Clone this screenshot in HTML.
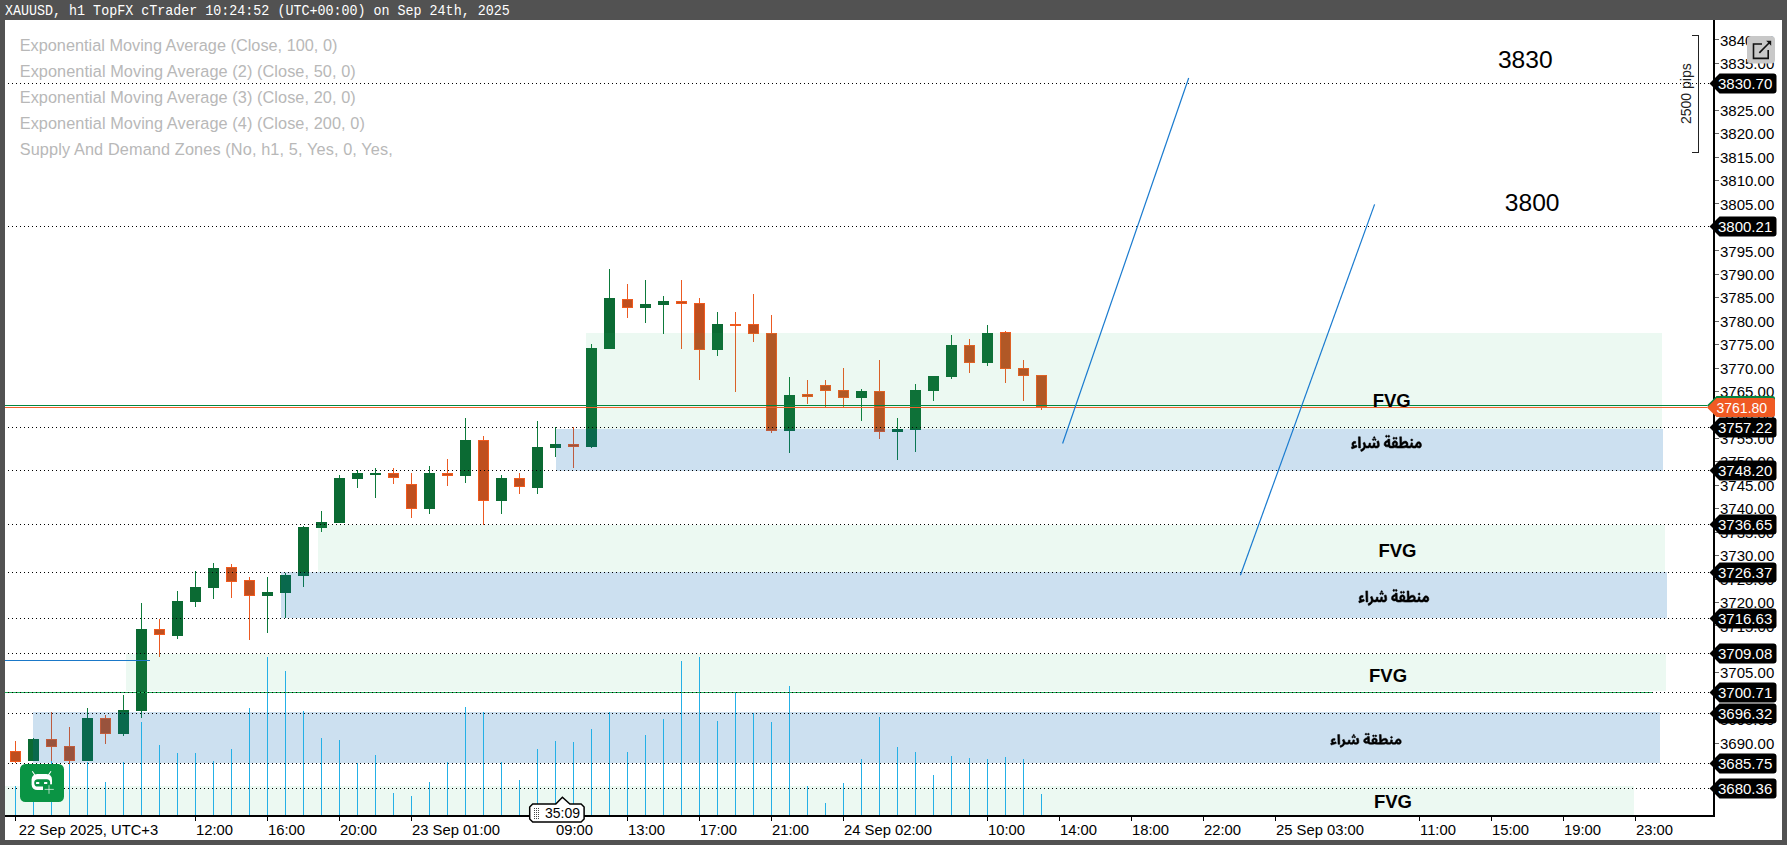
<!DOCTYPE html>
<html><head><meta charset="utf-8">
<style>
html,body{margin:0;padding:0;}
body{width:1787px;height:845px;background:#525252;overflow:hidden;position:relative;font-family:"Liberation Sans",sans-serif;}
#title{position:absolute;left:5px;top:2px;font-family:"Liberation Mono",monospace;font-size:15px;color:#fff;line-height:20px;white-space:pre;transform:scaleX(0.890);transform-origin:0 0;}
#chart{position:absolute;left:5px;top:20px;width:1777px;height:820px;background:#fff;}
svg{position:absolute;left:0;top:0;}
.t{position:absolute;white-space:pre;}
.leg{position:absolute;left:20px;font-size:16.3px;color:#bdbdbd;white-space:pre;line-height:20px;}
.ax{position:absolute;left:1720px;font-size:14.5px;color:#000;white-space:pre;line-height:16px;}
.tm{position:absolute;top:821px;font-size:14.5px;color:#000;white-space:pre;line-height:16px;}
.fvg{position:absolute;font-weight:bold;font-size:17px;color:#000;line-height:17px;white-space:pre;}
.lbl{position:absolute;left:1716px;font-size:14.5px;color:#fff;line-height:16px;white-space:pre;}
</style></head><body>
<div id="title">XAUUSD, h1 TopFX cTrader 10:24:52 (UTC+00:00) on Sep 24th, 2025</div>
<div id="chart"></div>
<svg width="1787" height="845" viewBox="0 0 1787 845" shape-rendering="crispEdges" font-family="Liberation Sans, sans-serif">
<rect x="15" y="741" width="1" height="22" fill="#ec5a22"/><rect x="10" y="751" width="11" height="11" fill="#f05a1e"/><rect x="11" y="752" width="9" height="9" fill="#bf4f1f"/><rect x="33" y="738" width="1" height="23" fill="#0d7a3b"/><rect x="28" y="739" width="11" height="22" fill="#0b6a33"/><rect x="51" y="712" width="1" height="51" fill="#ec5a22"/><rect x="46" y="739" width="11" height="8" fill="#f05a1e"/><rect x="47" y="740" width="9" height="6" fill="#bf4f1f"/><rect x="69" y="727" width="1" height="37" fill="#ec5a22"/><rect x="64" y="746" width="11" height="15" fill="#f05a1e"/><rect x="65" y="747" width="9" height="13" fill="#bf4f1f"/><rect x="87" y="708" width="1" height="53" fill="#0d7a3b"/><rect x="82" y="718" width="11" height="43" fill="#0b6a33"/><rect x="105" y="715" width="1" height="29" fill="#ec5a22"/><rect x="100" y="718" width="11" height="16" fill="#f05a1e"/><rect x="101" y="719" width="9" height="14" fill="#bf4f1f"/><rect x="123" y="695" width="1" height="41" fill="#0d7a3b"/><rect x="118" y="710" width="11" height="24" fill="#0b6a33"/><rect x="141" y="603" width="1" height="115" fill="#0d7a3b"/><rect x="136" y="629" width="11" height="82" fill="#0b6a33"/><rect x="159" y="619" width="1" height="38" fill="#ec5a22"/><rect x="154" y="629" width="11" height="6" fill="#f05a1e"/><rect x="155" y="630" width="9" height="4" fill="#bf4f1f"/><rect x="177" y="591" width="1" height="48" fill="#0d7a3b"/><rect x="172" y="601" width="11" height="35" fill="#0b6a33"/><rect x="195" y="571" width="1" height="36" fill="#0d7a3b"/><rect x="190" y="587" width="11" height="15" fill="#0b6a33"/><rect x="213" y="563" width="1" height="36" fill="#0d7a3b"/><rect x="208" y="568" width="11" height="20" fill="#0b6a33"/><rect x="231" y="564" width="1" height="34" fill="#ec5a22"/><rect x="226" y="567" width="11" height="15" fill="#f05a1e"/><rect x="227" y="568" width="9" height="13" fill="#bf4f1f"/><rect x="249" y="577" width="1" height="63" fill="#ec5a22"/><rect x="244" y="580" width="11" height="16" fill="#f05a1e"/><rect x="245" y="581" width="9" height="14" fill="#bf4f1f"/><rect x="267" y="577" width="1" height="56" fill="#0d7a3b"/><rect x="262" y="592" width="11" height="4" fill="#0b6a33"/><rect x="285" y="573" width="1" height="45" fill="#0d7a3b"/><rect x="280" y="575" width="11" height="18" fill="#0b6a33"/><rect x="303" y="526" width="1" height="61" fill="#0d7a3b"/><rect x="298" y="527" width="11" height="49" fill="#0b6a33"/><rect x="321" y="511" width="1" height="21" fill="#0d7a3b"/><rect x="316" y="522" width="11" height="6" fill="#0b6a33"/><rect x="339" y="475" width="1" height="48" fill="#0d7a3b"/><rect x="334" y="478" width="11" height="45" fill="#0b6a33"/><rect x="357" y="470" width="1" height="18" fill="#0d7a3b"/><rect x="352" y="473" width="11" height="6" fill="#0b6a33"/><rect x="375" y="468" width="1" height="30" fill="#0d7a3b"/><rect x="370" y="473" width="11" height="2" fill="#0b6a33"/><rect x="393" y="468" width="1" height="16" fill="#ec5a22"/><rect x="388" y="473" width="11" height="5" fill="#f05a1e"/><rect x="389" y="474" width="9" height="3" fill="#bf4f1f"/><rect x="411" y="473" width="1" height="45" fill="#ec5a22"/><rect x="406" y="484" width="11" height="25" fill="#f05a1e"/><rect x="407" y="485" width="9" height="23" fill="#bf4f1f"/><rect x="429" y="466" width="1" height="48" fill="#0d7a3b"/><rect x="424" y="473" width="11" height="36" fill="#0b6a33"/><rect x="447" y="459" width="1" height="27" fill="#ec5a22"/><rect x="442" y="473" width="11" height="3" fill="#f05a1e"/><rect x="443" y="474" width="9" height="1" fill="#bf4f1f"/><rect x="465" y="418" width="1" height="65" fill="#0d7a3b"/><rect x="460" y="440" width="11" height="36" fill="#0b6a33"/><rect x="483" y="436" width="1" height="89" fill="#ec5a22"/><rect x="478" y="440" width="11" height="61" fill="#f05a1e"/><rect x="479" y="441" width="9" height="59" fill="#bf4f1f"/><rect x="501" y="475" width="1" height="39" fill="#0d7a3b"/><rect x="496" y="478" width="11" height="23" fill="#0b6a33"/><rect x="519" y="473" width="1" height="21" fill="#ec5a22"/><rect x="514" y="478" width="11" height="9" fill="#f05a1e"/><rect x="515" y="479" width="9" height="7" fill="#bf4f1f"/><rect x="537" y="421" width="1" height="73" fill="#0d7a3b"/><rect x="532" y="447" width="11" height="41" fill="#0b6a33"/><rect x="555" y="427" width="1" height="30" fill="#0d7a3b"/><rect x="550" y="444" width="11" height="4" fill="#0b6a33"/><rect x="573" y="427" width="1" height="41" fill="#ec5a22"/><rect x="568" y="444" width="11" height="3" fill="#f05a1e"/><rect x="569" y="445" width="9" height="1" fill="#bf4f1f"/><rect x="591" y="344" width="1" height="104" fill="#0d7a3b"/><rect x="586" y="348" width="11" height="99" fill="#0b6a33"/><rect x="609" y="269" width="1" height="80" fill="#0d7a3b"/><rect x="604" y="298" width="11" height="51" fill="#0b6a33"/><rect x="627" y="284" width="1" height="34" fill="#ec5a22"/><rect x="622" y="299" width="11" height="9" fill="#f05a1e"/><rect x="623" y="300" width="9" height="7" fill="#bf4f1f"/><rect x="645" y="280" width="1" height="43" fill="#0d7a3b"/><rect x="640" y="304" width="11" height="4" fill="#0b6a33"/><rect x="663" y="296" width="1" height="38" fill="#0d7a3b"/><rect x="658" y="301" width="11" height="4" fill="#0b6a33"/><rect x="681" y="280" width="1" height="69" fill="#ec5a22"/><rect x="676" y="301" width="11" height="3" fill="#f05a1e"/><rect x="677" y="302" width="9" height="1" fill="#bf4f1f"/><rect x="699" y="298" width="1" height="82" fill="#ec5a22"/><rect x="694" y="303" width="11" height="47" fill="#f05a1e"/><rect x="695" y="304" width="9" height="45" fill="#bf4f1f"/><rect x="717" y="312" width="1" height="44" fill="#0d7a3b"/><rect x="712" y="324" width="11" height="26" fill="#0b6a33"/><rect x="735" y="312" width="1" height="80" fill="#ec5a22"/><rect x="730" y="324" width="11" height="2" fill="#f05a1e"/><rect x="753" y="294" width="1" height="48" fill="#ec5a22"/><rect x="748" y="324" width="11" height="10" fill="#f05a1e"/><rect x="749" y="325" width="9" height="8" fill="#bf4f1f"/><rect x="771" y="315" width="1" height="118" fill="#ec5a22"/><rect x="766" y="333" width="11" height="98" fill="#f05a1e"/><rect x="767" y="334" width="9" height="96" fill="#bf4f1f"/><rect x="789" y="377" width="1" height="76" fill="#0d7a3b"/><rect x="784" y="395" width="11" height="36" fill="#0b6a33"/><rect x="807" y="380" width="1" height="24" fill="#ec5a22"/><rect x="802" y="394" width="11" height="3" fill="#f05a1e"/><rect x="803" y="395" width="9" height="1" fill="#bf4f1f"/><rect x="825" y="380" width="1" height="27" fill="#ec5a22"/><rect x="820" y="385" width="11" height="6" fill="#f05a1e"/><rect x="821" y="386" width="9" height="4" fill="#bf4f1f"/><rect x="843" y="368" width="1" height="39" fill="#ec5a22"/><rect x="838" y="390" width="11" height="8" fill="#f05a1e"/><rect x="839" y="391" width="9" height="6" fill="#bf4f1f"/><rect x="861" y="389" width="1" height="32" fill="#0d7a3b"/><rect x="856" y="391" width="11" height="7" fill="#0b6a33"/><rect x="879" y="360" width="1" height="79" fill="#ec5a22"/><rect x="874" y="391" width="11" height="41" fill="#f05a1e"/><rect x="875" y="392" width="9" height="39" fill="#bf4f1f"/><rect x="897" y="418" width="1" height="42" fill="#0d7a3b"/><rect x="892" y="429" width="11" height="3" fill="#0b6a33"/><rect x="915" y="384" width="1" height="68" fill="#0d7a3b"/><rect x="910" y="390" width="11" height="40" fill="#0b6a33"/><rect x="933" y="376" width="1" height="25" fill="#0d7a3b"/><rect x="928" y="376" width="11" height="15" fill="#0b6a33"/><rect x="951" y="335" width="1" height="44" fill="#0d7a3b"/><rect x="946" y="345" width="11" height="32" fill="#0b6a33"/><rect x="969" y="339" width="1" height="34" fill="#ec5a22"/><rect x="964" y="345" width="11" height="18" fill="#f05a1e"/><rect x="965" y="346" width="9" height="16" fill="#bf4f1f"/><rect x="987" y="325" width="1" height="41" fill="#0d7a3b"/><rect x="982" y="333" width="11" height="30" fill="#0b6a33"/><rect x="1005" y="331" width="1" height="52" fill="#ec5a22"/><rect x="1000" y="332" width="11" height="37" fill="#f05a1e"/><rect x="1001" y="333" width="9" height="35" fill="#bf4f1f"/><rect x="1023" y="360" width="1" height="41" fill="#ec5a22"/><rect x="1018" y="368" width="11" height="8" fill="#f05a1e"/><rect x="1019" y="369" width="9" height="6" fill="#bf4f1f"/><rect x="1041" y="375" width="1" height="35" fill="#ec5a22"/><rect x="1036" y="375" width="11" height="32" fill="#f05a1e"/><rect x="1037" y="376" width="9" height="30" fill="#bf4f1f"/>
<rect x="586" y="333" width="1076" height="96" fill="rgba(40,185,115,0.09)"/><rect x="556" y="429" width="1107" height="42" fill="rgba(7,102,182,0.205)"/><rect x="318" y="525" width="1347" height="47" fill="rgba(40,185,115,0.09)"/><rect x="281" y="572" width="1386" height="46" fill="rgba(7,102,182,0.205)"/><rect x="126" y="654" width="1540" height="37" fill="rgba(40,185,115,0.09)"/><rect x="33" y="712" width="1627" height="51" fill="rgba(7,102,182,0.205)"/><rect x="5" y="786" width="1629" height="29" fill="rgba(40,185,115,0.09)"/>
<rect x="15" y="786" width="1" height="29" fill="#25b0e6"/><rect x="33" y="770" width="1" height="45" fill="#25b0e6"/><rect x="51" y="761" width="1" height="54" fill="#25b0e6"/><rect x="69" y="764" width="1" height="51" fill="#25b0e6"/><rect x="87" y="762" width="1" height="53" fill="#25b0e6"/><rect x="105" y="782" width="1" height="33" fill="#25b0e6"/><rect x="123" y="762" width="1" height="53" fill="#25b0e6"/><rect x="141" y="722" width="1" height="93" fill="#25b0e6"/><rect x="159" y="745" width="1" height="70" fill="#25b0e6"/><rect x="177" y="753" width="1" height="62" fill="#25b0e6"/><rect x="195" y="753" width="1" height="62" fill="#25b0e6"/><rect x="213" y="761" width="1" height="54" fill="#25b0e6"/><rect x="231" y="749" width="1" height="66" fill="#25b0e6"/><rect x="249" y="708" width="1" height="107" fill="#25b0e6"/><rect x="267" y="657" width="1" height="158" fill="#25b0e6"/><rect x="285" y="671" width="1" height="144" fill="#25b0e6"/><rect x="303" y="711" width="1" height="104" fill="#25b0e6"/><rect x="321" y="738" width="1" height="77" fill="#25b0e6"/><rect x="339" y="740" width="1" height="75" fill="#25b0e6"/><rect x="357" y="763" width="1" height="52" fill="#25b0e6"/><rect x="375" y="755" width="1" height="60" fill="#25b0e6"/><rect x="393" y="793" width="1" height="22" fill="#25b0e6"/><rect x="411" y="796" width="1" height="19" fill="#25b0e6"/><rect x="429" y="782" width="1" height="33" fill="#25b0e6"/><rect x="447" y="762" width="1" height="53" fill="#25b0e6"/><rect x="465" y="707" width="1" height="108" fill="#25b0e6"/><rect x="483" y="712" width="1" height="103" fill="#25b0e6"/><rect x="501" y="762" width="1" height="53" fill="#25b0e6"/><rect x="519" y="780" width="1" height="35" fill="#25b0e6"/><rect x="537" y="749" width="1" height="66" fill="#25b0e6"/><rect x="555" y="741" width="1" height="74" fill="#25b0e6"/><rect x="573" y="742" width="1" height="73" fill="#25b0e6"/><rect x="591" y="729" width="1" height="86" fill="#25b0e6"/><rect x="609" y="712" width="1" height="103" fill="#25b0e6"/><rect x="627" y="752" width="1" height="63" fill="#25b0e6"/><rect x="645" y="735" width="1" height="80" fill="#25b0e6"/><rect x="663" y="719" width="1" height="96" fill="#25b0e6"/><rect x="681" y="661" width="1" height="154" fill="#25b0e6"/><rect x="699" y="657" width="1" height="158" fill="#25b0e6"/><rect x="717" y="721" width="1" height="94" fill="#25b0e6"/><rect x="735" y="693" width="1" height="122" fill="#25b0e6"/><rect x="753" y="713" width="1" height="102" fill="#25b0e6"/><rect x="771" y="722" width="1" height="93" fill="#25b0e6"/><rect x="789" y="686" width="1" height="129" fill="#25b0e6"/><rect x="807" y="786" width="1" height="29" fill="#25b0e6"/><rect x="825" y="803" width="1" height="12" fill="#25b0e6"/><rect x="843" y="783" width="1" height="32" fill="#25b0e6"/><rect x="861" y="759" width="1" height="56" fill="#25b0e6"/><rect x="879" y="717" width="1" height="98" fill="#25b0e6"/><rect x="897" y="747" width="1" height="68" fill="#25b0e6"/><rect x="915" y="752" width="1" height="63" fill="#25b0e6"/><rect x="933" y="775" width="1" height="40" fill="#25b0e6"/><rect x="951" y="756" width="1" height="59" fill="#25b0e6"/><rect x="969" y="758" width="1" height="57" fill="#25b0e6"/><rect x="987" y="759" width="1" height="56" fill="#25b0e6"/><rect x="1005" y="757" width="1" height="58" fill="#25b0e6"/><rect x="1023" y="759" width="1" height="56" fill="#25b0e6"/><rect x="1041" y="794" width="1" height="21" fill="#25b0e6"/>
<rect x="5" y="692" width="1648" height="1" fill="#1fae58"/>
<line x1="8" y1="83.5" x2="1710" y2="83.5" stroke="#000" stroke-width="1" stroke-dasharray="1 3"/><line x1="8" y1="226.5" x2="1710" y2="226.5" stroke="#000" stroke-width="1" stroke-dasharray="1 3"/><line x1="8" y1="427.5" x2="1710" y2="427.5" stroke="#000" stroke-width="1" stroke-dasharray="1 3"/><line x1="8" y1="470.5" x2="1710" y2="470.5" stroke="#000" stroke-width="1" stroke-dasharray="1 3"/><line x1="8" y1="524.5" x2="1710" y2="524.5" stroke="#000" stroke-width="1" stroke-dasharray="1 3"/><line x1="8" y1="572.5" x2="1710" y2="572.5" stroke="#000" stroke-width="1" stroke-dasharray="1 3"/><line x1="8" y1="618.5" x2="1710" y2="618.5" stroke="#000" stroke-width="1" stroke-dasharray="1 3"/><line x1="8" y1="653.5" x2="1710" y2="653.5" stroke="#000" stroke-width="1" stroke-dasharray="1 3"/><line x1="8" y1="692.5" x2="1710" y2="692.5" stroke="#000" stroke-width="1" stroke-dasharray="1 3"/><line x1="8" y1="713.5" x2="1710" y2="713.5" stroke="#000" stroke-width="1" stroke-dasharray="1 3"/><line x1="8" y1="763.5" x2="1710" y2="763.5" stroke="#000" stroke-width="1" stroke-dasharray="1 3"/><line x1="8" y1="788.5" x2="1710" y2="788.5" stroke="#000" stroke-width="1" stroke-dasharray="1 3"/>
<rect x="5" y="405" width="1702" height="1" fill="#04853f"/><rect x="5" y="407" width="1702" height="1" fill="#f0602a"/><rect x="5" y="660" width="145" height="1" fill="#1a78c8"/><line x1="1062.6" y1="443.5" x2="1188.7" y2="78" stroke="#1a7bcf" stroke-width="1.2" shape-rendering="geometricPrecision"/><line x1="1240.4" y1="575.2" x2="1374.6" y2="204.4" stroke="#1a7bcf" stroke-width="1.2" shape-rendering="geometricPrecision"/><rect x="1713" y="20" width="2" height="797" fill="#000"/><rect x="5" y="815" width="1710" height="2" fill="#000"/><rect x="1715" y="39" width="4" height="1" fill="#666"/><rect x="1715" y="63" width="4" height="1" fill="#666"/><rect x="1715" y="86" width="4" height="1" fill="#666"/><rect x="1715" y="110" width="4" height="1" fill="#666"/><rect x="1715" y="133" width="4" height="1" fill="#666"/><rect x="1715" y="157" width="4" height="1" fill="#666"/><rect x="1715" y="180" width="4" height="1" fill="#666"/><rect x="1715" y="203" width="4" height="1" fill="#666"/><rect x="1715" y="227" width="4" height="1" fill="#666"/><rect x="1715" y="250" width="4" height="1" fill="#666"/><rect x="1715" y="274" width="4" height="1" fill="#666"/><rect x="1715" y="297" width="4" height="1" fill="#666"/><rect x="1715" y="321" width="4" height="1" fill="#666"/><rect x="1715" y="344" width="4" height="1" fill="#666"/><rect x="1715" y="368" width="4" height="1" fill="#666"/><rect x="1715" y="391" width="4" height="1" fill="#666"/><rect x="1715" y="414" width="4" height="1" fill="#666"/><rect x="1715" y="438" width="4" height="1" fill="#666"/><rect x="1715" y="461" width="4" height="1" fill="#666"/><rect x="1715" y="485" width="4" height="1" fill="#666"/><rect x="1715" y="508" width="4" height="1" fill="#666"/><rect x="1715" y="532" width="4" height="1" fill="#666"/><rect x="1715" y="555" width="4" height="1" fill="#666"/><rect x="1715" y="579" width="4" height="1" fill="#666"/><rect x="1715" y="602" width="4" height="1" fill="#666"/><rect x="1715" y="625" width="4" height="1" fill="#666"/><rect x="1715" y="649" width="4" height="1" fill="#666"/><rect x="1715" y="672" width="4" height="1" fill="#666"/><rect x="1715" y="696" width="4" height="1" fill="#666"/><rect x="1715" y="719" width="4" height="1" fill="#666"/><rect x="1715" y="743" width="4" height="1" fill="#666"/><rect x="1715" y="766" width="4" height="1" fill="#666"/><rect x="1715" y="790" width="4" height="1" fill="#666"/><rect x="15" y="817" width="1" height="4" fill="#000"/><rect x="195" y="817" width="1" height="4" fill="#000"/><rect x="267" y="817" width="1" height="4" fill="#000"/><rect x="339" y="817" width="1" height="4" fill="#000"/><rect x="411" y="817" width="1" height="4" fill="#000"/><rect x="555" y="817" width="1" height="4" fill="#000"/><rect x="627" y="817" width="1" height="4" fill="#000"/><rect x="699" y="817" width="1" height="4" fill="#000"/><rect x="771" y="817" width="1" height="4" fill="#000"/><rect x="843" y="817" width="1" height="4" fill="#000"/><rect x="987" y="817" width="1" height="4" fill="#000"/><rect x="1059" y="817" width="1" height="4" fill="#000"/><rect x="1131" y="817" width="1" height="4" fill="#000"/><rect x="1203" y="817" width="1" height="4" fill="#000"/><rect x="1275" y="817" width="1" height="4" fill="#000"/><rect x="1419" y="817" width="1" height="4" fill="#000"/><rect x="1491" y="817" width="1" height="4" fill="#000"/><rect x="1563" y="817" width="1" height="4" fill="#000"/><rect x="1635" y="817" width="1" height="4" fill="#000"/><path d="M1691.5 35.5 H1698.5 V152.5 H1691.5" fill="none" stroke="#222" stroke-width="1"/>
<text x="19.7" y="51" font-size="16.3" fill="#b8b8b8" textLength="317.7" lengthAdjust="spacing">Exponential Moving Average (Close, 100, 0)</text><text x="19.7" y="77" font-size="16.3" fill="#b8b8b8" textLength="336.0" lengthAdjust="spacing">Exponential Moving Average (2) (Close, 50, 0)</text><text x="19.7" y="103" font-size="16.3" fill="#b8b8b8" textLength="336.0" lengthAdjust="spacing">Exponential Moving Average (3) (Close, 20, 0)</text><text x="19.7" y="129" font-size="16.3" fill="#b8b8b8" textLength="345.1" lengthAdjust="spacing">Exponential Moving Average (4) (Close, 200, 0)</text><text x="19.7" y="155" font-size="16.3" fill="#b8b8b8" textLength="373.1" lengthAdjust="spacing">Supply And Demand Zones (No, h1, 5, Yes, 0, Yes,</text><text x="1720" y="45.5" font-size="15" fill="#000">3840.00</text><text x="1720" y="68.9" font-size="15" fill="#000">3835.00</text><text x="1720" y="92.4" font-size="15" fill="#000">3830.00</text><text x="1720" y="115.8" font-size="15" fill="#000">3825.00</text><text x="1720" y="139.3" font-size="15" fill="#000">3820.00</text><text x="1720" y="162.7" font-size="15" fill="#000">3815.00</text><text x="1720" y="186.1" font-size="15" fill="#000">3810.00</text><text x="1720" y="209.6" font-size="15" fill="#000">3805.00</text><text x="1720" y="233.0" font-size="15" fill="#000">3800.00</text><text x="1720" y="256.5" font-size="15" fill="#000">3795.00</text><text x="1720" y="279.9" font-size="15" fill="#000">3790.00</text><text x="1720" y="303.4" font-size="15" fill="#000">3785.00</text><text x="1720" y="326.8" font-size="15" fill="#000">3780.00</text><text x="1720" y="350.2" font-size="15" fill="#000">3775.00</text><text x="1720" y="373.7" font-size="15" fill="#000">3770.00</text><text x="1720" y="397.1" font-size="15" fill="#000">3765.00</text><text x="1720" y="420.6" font-size="15" fill="#000">3760.00</text><text x="1720" y="444.0" font-size="15" fill="#000">3755.00</text><text x="1720" y="467.4" font-size="15" fill="#000">3750.00</text><text x="1720" y="490.9" font-size="15" fill="#000">3745.00</text><text x="1720" y="514.3" font-size="15" fill="#000">3740.00</text><text x="1720" y="537.8" font-size="15" fill="#000">3735.00</text><text x="1720" y="561.2" font-size="15" fill="#000">3730.00</text><text x="1720" y="584.6" font-size="15" fill="#000">3725.00</text><text x="1720" y="608.1" font-size="15" fill="#000">3720.00</text><text x="1720" y="631.5" font-size="15" fill="#000">3715.00</text><text x="1720" y="655.0" font-size="15" fill="#000">3710.00</text><text x="1720" y="678.4" font-size="15" fill="#000">3705.00</text><text x="1720" y="701.8" font-size="15" fill="#000">3700.00</text><text x="1720" y="725.3" font-size="15" fill="#000">3695.00</text><text x="1720" y="748.7" font-size="15" fill="#000">3690.00</text><text x="1720" y="772.2" font-size="15" fill="#000">3685.00</text><text x="1720" y="795.6" font-size="15" fill="#000">3680.00</text><text x="18.8" y="834.8" font-size="14.8" fill="#000">22 Sep 2025, UTC+3</text><text x="196" y="834.8" font-size="14.8" fill="#000">12:00</text><text x="268" y="834.8" font-size="14.8" fill="#000">16:00</text><text x="340" y="834.8" font-size="14.8" fill="#000">20:00</text><text x="412" y="834.8" font-size="14.8" fill="#000">23 Sep 01:00</text><text x="556" y="834.8" font-size="14.8" fill="#000">09:00</text><text x="628" y="834.8" font-size="14.8" fill="#000">13:00</text><text x="700" y="834.8" font-size="14.8" fill="#000">17:00</text><text x="772" y="834.8" font-size="14.8" fill="#000">21:00</text><text x="844" y="834.8" font-size="14.8" fill="#000">24 Sep 02:00</text><text x="988" y="834.8" font-size="14.8" fill="#000">10:00</text><text x="1060" y="834.8" font-size="14.8" fill="#000">14:00</text><text x="1132" y="834.8" font-size="14.8" fill="#000">18:00</text><text x="1204" y="834.8" font-size="14.8" fill="#000">22:00</text><text x="1276" y="834.8" font-size="14.8" fill="#000">25 Sep 03:00</text><text x="1420" y="834.8" font-size="14.8" fill="#000">11:00</text><text x="1492" y="834.8" font-size="14.8" fill="#000">15:00</text><text x="1564" y="834.8" font-size="14.8" fill="#000">19:00</text><text x="1636" y="834.8" font-size="14.8" fill="#000">23:00</text><text x="1497.9" y="67.5" font-size="24.6" fill="#000">3830</text><text x="1504.8" y="210.7" font-size="24.6" fill="#000">3800</text><text x="1372.7" y="407.3" font-size="18.5" font-weight="bold" fill="#000">FVG</text><text x="1378.4" y="557.3" font-size="18.5" font-weight="bold" fill="#000">FVG</text><text x="1369.0" y="682.3" font-size="18.5" font-weight="bold" fill="#000">FVG</text><text x="1373.9" y="808.4" font-size="18.5" font-weight="bold" fill="#000">FVG</text><path d="M65 387 51 373 33 382 23 406 14 458 10 500 9 571 15 642 22 679 0 712 9 835 58 759 83 712 73 599 48 642 41 623 35 580 36 533 43 500 55 495 61 505ZM390 340 363 377 373 542 373 608 367 646 361 656 345 651 339 632 337 590 341 486 317 462 311 594 308 623 303 646 298 656 283 651 277 627 275 580 278 491 254 472 250 575 245 627 234 656 220 656 212 642 207 618 199 505 191 425 167 476 176 590 178 627 178 693 173 755 161 811 152 840 132 882 140 995 163 953 180 896 192 840 203 745 212 774 220 783 247 774 255 755 263 717 272 764 285 783 313 774 318 759 326 712 333 759 348 783 369 778 384 750 396 689 400 632 399 500ZM856 222 847 269 848 316 855 349 866 349 873 321 874 264 871 241 865 222ZM338 208 331 236 330 278 335 311 344 321 351 302 354 255 348 212ZM308 208 301 236 300 278 305 311 314 321 321 302 324 255 318 212ZM636 118 629 146 627 165 627 203 634 241 642 245 650 222 652 203 652 160 645 123ZM602 118 595 146 593 193 598 236 602 245 609 245 618 208 618 156 613 127 609 118ZM467 514 467 571 470 618 481 675 491 698 501 708 520 708 528 698 540 755 561 783 595 778 618 750 659 783 735 783 761 769 779 741 805 778 829 783 844 769 853 745 859 712 868 759 885 783 904 783 914 774 922 755 928 726 948 769 972 778 982 759 992 717 999 637 997 533 988 458 972 401 955 392 942 415 933 448 923 514 914 599 905 646 902 656 890 656 879 642 874 618 872 594 875 476 851 458 844 608 837 646 829 656 805 651 804 637 808 585 806 481 801 434 786 373 775 358 755 363 744 382 719 458 718 453 715 94 689 94 693 594 684 656 651 651 660 561 661 519 658 448 653 406 645 368 629 335 613 340 601 363 591 410 586 448 583 495 583 561 593 651 592 656 564 656 558 646 553 618 551 585 548 231 520 231 521 297 501 330 485 373 474 429ZM951 533 956 519 961 519 970 552 974 594 974 623 970 646 958 651 942 623ZM782 542 782 571 779 599 768 632 749 651 716 651 733 561 751 500 762 486 770 486 777 505ZM626 458 634 500 635 547 630 590 620 623 611 580 608 528 611 486 619 458ZM521 429 523 458 524 571 519 580 506 580 498 566 493 542 493 514 496 486 511 439ZM101 94 105 778 132 778 128 94ZM325 80 317 108 316 151 322 189 330 193 337 170 339 127 334 90ZM531 0 523 28 521 47 521 85 528 123 537 127 545 104 547 85 547 42 540 5ZM497 0 489 28 487 75 493 118 497 127 504 127 513 90 513 38 508 9 504 0Z" fill="#000" stroke="#000" stroke-width="0.5" stroke-linejoin="round" vector-effect="non-scaling-stroke" transform="translate(1351.25,435.25) scale(0.07030,0.01640)" shape-rendering="geometricPrecision"/><path d="M65 387 51 373 33 382 23 406 14 458 10 500 9 571 15 642 22 679 0 712 9 835 58 759 83 712 73 599 48 642 41 623 35 580 36 533 43 500 55 495 61 505ZM390 340 363 377 373 542 373 608 367 646 361 656 345 651 339 632 337 590 341 486 317 462 311 594 308 623 303 646 298 656 283 651 277 627 275 580 278 491 254 472 250 575 245 627 234 656 220 656 212 642 207 618 199 505 191 425 167 476 176 590 178 627 178 693 173 755 161 811 152 840 132 882 140 995 163 953 180 896 192 840 203 745 212 774 220 783 247 774 255 755 263 717 272 764 285 783 313 774 318 759 326 712 333 759 348 783 369 778 384 750 396 689 400 632 399 500ZM856 222 847 269 848 316 855 349 866 349 873 321 874 264 871 241 865 222ZM338 208 331 236 330 278 335 311 344 321 351 302 354 255 348 212ZM308 208 301 236 300 278 305 311 314 321 321 302 324 255 318 212ZM636 118 629 146 627 165 627 203 634 241 642 245 650 222 652 203 652 160 645 123ZM602 118 595 146 593 193 598 236 602 245 609 245 618 208 618 156 613 127 609 118ZM467 514 467 571 470 618 481 675 491 698 501 708 520 708 528 698 540 755 561 783 595 778 618 750 659 783 735 783 761 769 779 741 805 778 829 783 844 769 853 745 859 712 868 759 885 783 904 783 914 774 922 755 928 726 948 769 972 778 982 759 992 717 999 637 997 533 988 458 972 401 955 392 942 415 933 448 923 514 914 599 905 646 902 656 890 656 879 642 874 618 872 594 875 476 851 458 844 608 837 646 829 656 805 651 804 637 808 585 806 481 801 434 786 373 775 358 755 363 744 382 719 458 718 453 715 94 689 94 693 594 684 656 651 651 660 561 661 519 658 448 653 406 645 368 629 335 613 340 601 363 591 410 586 448 583 495 583 561 593 651 592 656 564 656 558 646 553 618 551 585 548 231 520 231 521 297 501 330 485 373 474 429ZM951 533 956 519 961 519 970 552 974 594 974 623 970 646 958 651 942 623ZM782 542 782 571 779 599 768 632 749 651 716 651 733 561 751 500 762 486 770 486 777 505ZM626 458 634 500 635 547 630 590 620 623 611 580 608 528 611 486 619 458ZM521 429 523 458 524 571 519 580 506 580 498 566 493 542 493 514 496 486 511 439ZM101 94 105 778 132 778 128 94ZM325 80 317 108 316 151 322 189 330 193 337 170 339 127 334 90ZM531 0 523 28 521 47 521 85 528 123 537 127 545 104 547 85 547 42 540 5ZM497 0 489 28 487 75 493 118 497 127 504 127 513 90 513 38 508 9 504 0Z" fill="#000" stroke="#000" stroke-width="0.5" stroke-linejoin="round" vector-effect="non-scaling-stroke" transform="translate(1358.65,589.35) scale(0.07030,0.01630)" shape-rendering="geometricPrecision"/><path d="M65 387 51 373 33 382 23 406 14 458 10 500 9 571 15 642 22 679 0 712 9 835 58 759 83 712 73 599 48 642 41 623 35 580 36 533 43 500 55 495 61 505ZM390 340 363 377 373 542 373 608 367 646 361 656 345 651 339 632 337 590 341 486 317 462 311 594 308 623 303 646 298 656 283 651 277 627 275 580 278 491 254 472 250 575 245 627 234 656 220 656 212 642 207 618 199 505 191 425 167 476 176 590 178 627 178 693 173 755 161 811 152 840 132 882 140 995 163 953 180 896 192 840 203 745 212 774 220 783 247 774 255 755 263 717 272 764 285 783 313 774 318 759 326 712 333 759 348 783 369 778 384 750 396 689 400 632 399 500ZM856 222 847 269 848 316 855 349 866 349 873 321 874 264 871 241 865 222ZM338 208 331 236 330 278 335 311 344 321 351 302 354 255 348 212ZM308 208 301 236 300 278 305 311 314 321 321 302 324 255 318 212ZM636 118 629 146 627 165 627 203 634 241 642 245 650 222 652 203 652 160 645 123ZM602 118 595 146 593 193 598 236 602 245 609 245 618 208 618 156 613 127 609 118ZM467 514 467 571 470 618 481 675 491 698 501 708 520 708 528 698 540 755 561 783 595 778 618 750 659 783 735 783 761 769 779 741 805 778 829 783 844 769 853 745 859 712 868 759 885 783 904 783 914 774 922 755 928 726 948 769 972 778 982 759 992 717 999 637 997 533 988 458 972 401 955 392 942 415 933 448 923 514 914 599 905 646 902 656 890 656 879 642 874 618 872 594 875 476 851 458 844 608 837 646 829 656 805 651 804 637 808 585 806 481 801 434 786 373 775 358 755 363 744 382 719 458 718 453 715 94 689 94 693 594 684 656 651 651 660 561 661 519 658 448 653 406 645 368 629 335 613 340 601 363 591 410 586 448 583 495 583 561 593 651 592 656 564 656 558 646 553 618 551 585 548 231 520 231 521 297 501 330 485 373 474 429ZM951 533 956 519 961 519 970 552 974 594 974 623 970 646 958 651 942 623ZM782 542 782 571 779 599 768 632 749 651 716 651 733 561 751 500 762 486 770 486 777 505ZM626 458 634 500 635 547 630 590 620 623 611 580 608 528 611 486 619 458ZM521 429 523 458 524 571 519 580 506 580 498 566 493 542 493 514 496 486 511 439ZM101 94 105 778 132 778 128 94ZM325 80 317 108 316 151 322 189 330 193 337 170 339 127 334 90ZM531 0 523 28 521 47 521 85 528 123 537 127 545 104 547 85 547 42 540 5ZM497 0 489 28 487 75 493 118 497 127 504 127 513 90 513 38 508 9 504 0Z" fill="#000" stroke="#000" stroke-width="0.5" stroke-linejoin="round" vector-effect="non-scaling-stroke" transform="translate(1330.55,733.25) scale(0.07080,0.01420)" shape-rendering="geometricPrecision"/><text transform="translate(1690.5,124) rotate(-90)" font-size="14" fill="#222">2500 pips</text><path d="M1709.5 83.5 L1719.5 73.5 H1773.5 Q1776.5 73.5 1776.5 76.5 V90.5 Q1776.5 93.5 1773.5 93.5 H1719.5 Z" fill="#000" shape-rendering="geometricPrecision"/><text x="1718" y="89.2" font-size="15" fill="#fff">3830.70</text><path d="M1709.5 226.5 L1719.5 216.5 H1773.5 Q1776.5 216.5 1776.5 219.5 V233.5 Q1776.5 236.5 1773.5 236.5 H1719.5 Z" fill="#000" shape-rendering="geometricPrecision"/><text x="1718" y="232.2" font-size="15" fill="#fff">3800.21</text><path d="M1709.5 427.5 L1719.5 417.5 H1773.5 Q1776.5 417.5 1776.5 420.5 V434.5 Q1776.5 437.5 1773.5 437.5 H1719.5 Z" fill="#000" shape-rendering="geometricPrecision"/><text x="1718" y="433.2" font-size="15" fill="#fff">3757.22</text><path d="M1709.5 470.5 L1719.5 460.5 H1773.5 Q1776.5 460.5 1776.5 463.5 V477.5 Q1776.5 480.5 1773.5 480.5 H1719.5 Z" fill="#000" shape-rendering="geometricPrecision"/><text x="1718" y="476.2" font-size="15" fill="#fff">3748.20</text><path d="M1709.5 524.5 L1719.5 514.5 H1773.5 Q1776.5 514.5 1776.5 517.5 V531.5 Q1776.5 534.5 1773.5 534.5 H1719.5 Z" fill="#000" shape-rendering="geometricPrecision"/><text x="1718" y="530.2" font-size="15" fill="#fff">3736.65</text><path d="M1709.5 572.5 L1719.5 562.5 H1773.5 Q1776.5 562.5 1776.5 565.5 V579.5 Q1776.5 582.5 1773.5 582.5 H1719.5 Z" fill="#000" shape-rendering="geometricPrecision"/><text x="1718" y="578.2" font-size="15" fill="#fff">3726.37</text><path d="M1709.5 618.5 L1719.5 608.5 H1773.5 Q1776.5 608.5 1776.5 611.5 V625.5 Q1776.5 628.5 1773.5 628.5 H1719.5 Z" fill="#000" shape-rendering="geometricPrecision"/><text x="1718" y="624.2" font-size="15" fill="#fff">3716.63</text><path d="M1709.5 653.5 L1719.5 643.5 H1773.5 Q1776.5 643.5 1776.5 646.5 V660.5 Q1776.5 663.5 1773.5 663.5 H1719.5 Z" fill="#000" shape-rendering="geometricPrecision"/><text x="1718" y="659.2" font-size="15" fill="#fff">3709.08</text><path d="M1709.5 692.5 L1719.5 682.5 H1773.5 Q1776.5 682.5 1776.5 685.5 V699.5 Q1776.5 702.5 1773.5 702.5 H1719.5 Z" fill="#000" shape-rendering="geometricPrecision"/><text x="1718" y="698.2" font-size="15" fill="#fff">3700.71</text><path d="M1709.5 713.5 L1719.5 703.5 H1773.5 Q1776.5 703.5 1776.5 706.5 V720.5 Q1776.5 723.5 1773.5 723.5 H1719.5 Z" fill="#000" shape-rendering="geometricPrecision"/><text x="1718" y="719.2" font-size="15" fill="#fff">3696.32</text><path d="M1709.5 763.5 L1719.5 753.5 H1773.5 Q1776.5 753.5 1776.5 756.5 V770.5 Q1776.5 773.5 1773.5 773.5 H1719.5 Z" fill="#000" shape-rendering="geometricPrecision"/><text x="1718" y="769.2" font-size="15" fill="#fff">3685.75</text><path d="M1709.5 788.5 L1719.5 778.5 H1773.5 Q1776.5 778.5 1776.5 781.5 V795.5 Q1776.5 798.5 1773.5 798.5 H1719.5 Z" fill="#000" shape-rendering="geometricPrecision"/><text x="1718" y="794.2" font-size="15" fill="#fff">3680.36</text><path d="M1707 405.5 L1716.5 396.0 H1772.5 Q1775 396.0 1775 398.5 V412.5 Q1775 415.0 1772.5 415.0 H1716.5 Z" fill="#04853f" shape-rendering="geometricPrecision"/><path d="M1707 407.5 L1716.5 398.0 H1772.5 Q1775 398.0 1775 400.5 V414.5 Q1775 417.0 1772.5 417.0 H1716.5 Z" fill="#f05a23" shape-rendering="geometricPrecision"/><text x="1716.5" y="412.8" font-size="14" fill="#fff">3761.80</text><rect x="1747" y="36" width="28" height="27.5" rx="4" fill="#c8c8c8" shape-rendering="geometricPrecision"/><path d="M1762 44 H1753.5 V58.4 H1768.2 V50" fill="none" stroke="#111" stroke-width="1.6" shape-rendering="geometricPrecision"/><path d="M1759.3 52.9 L1769.5 42.5" stroke="#111" stroke-width="1.6" shape-rendering="geometricPrecision"/><path d="M1766.2 40.8 H1771.2 V45.8 Z" fill="#111" shape-rendering="geometricPrecision"/><rect x="20" y="764" width="44" height="38" rx="5.3" fill="#0a9444" shape-rendering="geometricPrecision"/><g shape-rendering="geometricPrecision"><rect x="31.6" y="774" width="20.4" height="16" rx="5.5" fill="#fff"/><rect x="34.2" y="779.2" width="16" height="7.3" rx="3.6" fill="#0a9444"/><rect x="43" y="784.3" width="10" height="7" fill="#0a9444"/><rect x="36" y="781.9" width="3.3" height="2.2" rx="0.6" fill="#fff"/><rect x="44" y="781.9" width="3.3" height="2.2" rx="0.6" fill="#fff"/><path d="M32.3 771.3 L35 775.2 M51 771.3 L48.3 775.2" stroke="#fff" stroke-width="1.1"/><path d="M44.6 789.4 H53.8 M49 785.2 V793.8" stroke="#fff" stroke-opacity="0.75" stroke-width="0.9"/></g><path d="M532.7 804 H555.8 L562.4 797.2 L569.9 804 H581.1 L584.1 807 V819 L581.1 822 H532.7 L529.7 819 V807 Z" fill="#fff" stroke="#000" stroke-width="1.5" shape-rendering="geometricPrecision"/><rect x="534" y="808" width="1" height="1" fill="#444"/><rect x="534" y="810" width="1" height="1" fill="#444"/><rect x="534" y="812" width="1" height="1" fill="#444"/><rect x="534" y="814" width="1" height="1" fill="#444"/><rect x="534" y="816" width="1" height="1" fill="#444"/><rect x="534" y="818" width="1" height="1" fill="#444"/><rect x="536" y="808" width="1" height="1" fill="#444"/><rect x="536" y="810" width="1" height="1" fill="#444"/><rect x="536" y="812" width="1" height="1" fill="#444"/><rect x="536" y="814" width="1" height="1" fill="#444"/><rect x="536" y="816" width="1" height="1" fill="#444"/><rect x="536" y="818" width="1" height="1" fill="#444"/><rect x="538" y="808" width="1" height="1" fill="#444"/><rect x="538" y="810" width="1" height="1" fill="#444"/><rect x="538" y="812" width="1" height="1" fill="#444"/><rect x="538" y="814" width="1" height="1" fill="#444"/><rect x="538" y="816" width="1" height="1" fill="#444"/><rect x="538" y="818" width="1" height="1" fill="#444"/><text x="545" y="818.2" font-size="14" fill="#000">35:09</text>
</svg>
</body></html>
